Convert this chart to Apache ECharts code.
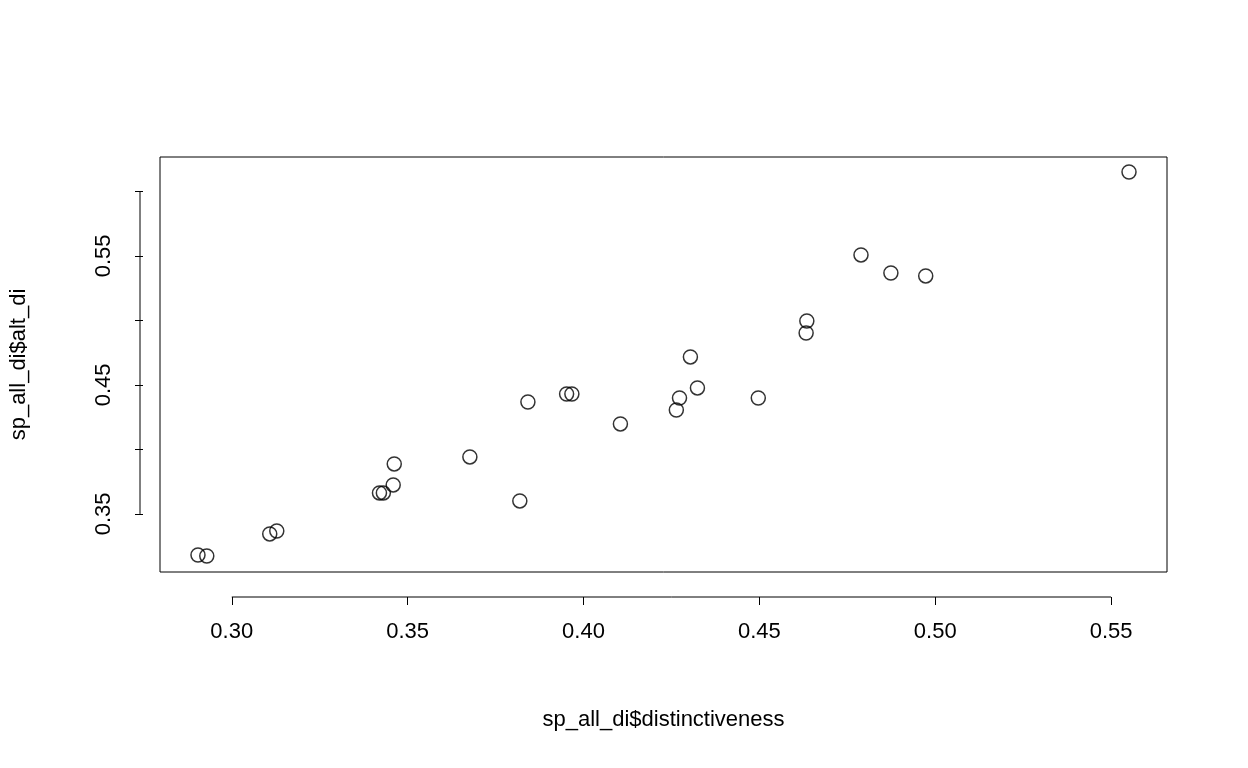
<!DOCTYPE html>
<html>
<head>
<meta charset="utf-8">
<script src="https://cdn.jsdelivr.net/npm/echarts@6/dist/echarts.min.js"></script>
<style>html,body{margin:0;background:#fff}#c{width:1248px;height:768px}</style>
</head>
<body>
<div id="c"></div>
<script>
// distinctiveness vs alt_di
var distinctiveness = [0.5551, 0.4789, 0.4874, 0.4973, 0.4635, 0.4633, 0.4304, 0.4324, 0.4273, 0.4264,
  0.4497, 0.3952, 0.3967, 0.3842, 0.4105, 0.3677, 0.3462, 0.3459, 0.3420, 0.3431,
  0.3819, 0.3128, 0.3108, 0.2904, 0.2929];
var altDi = [0.6151, 0.5508, 0.5368, 0.5345, 0.4996, 0.4903, 0.4717, 0.4477, 0.4399, 0.4306,
  0.4399, 0.4430, 0.4430, 0.4368, 0.4198, 0.3942, 0.3888, 0.3725, 0.3663, 0.3663,
  0.3601, 0.3368, 0.3345, 0.3182, 0.3174];
var xTicks = [0.30, 0.35, 0.40, 0.45, 0.50, 0.55];
var yTicks = [0.35, 0.40, 0.45, 0.50, 0.55, 0.60];
var yLabels = [0.35, 0.45, 0.55];

var font = 'Liberation Sans, Arial, sans-serif';
var chart = echarts.init(document.getElementById('c'));
chart.setOption({
  animation: false,
  grid: {left: 157, right: 81, top: 157, bottom: 196, show: true, borderColor: '#000', borderWidth: 1},
  xAxis: {
    type: 'value', min: 0.2796, max: 0.5659, offset: 25,
    name: 'sp_all_di$distinctiveness', nameLocation: 'middle', nameGap: 112,
    nameTextStyle: {color: '#000', fontSize: 22, fontFamily: font},
    axisLine: {show: false}, splitLine: {show: false},
    axisTick: {show: true, length: 8, customValues: xTicks, lineStyle: {color: '#000'}},
    axisLabel: {customValues: xTicks, color: '#000', fontSize: 22, fontFamily: font, margin: 24,
      formatter: function (v) { return v.toFixed(2); }}
  },
  yAxis: {
    type: 'value', min: 0.305, max: 0.6267, offset: 17,
    name: 'sp_all_di$alt_di', nameLocation: 'middle', nameGap: 113,
    nameTextStyle: {color: '#000', fontSize: 22, fontFamily: font},
    axisLine: {show: false}, splitLine: {show: false},
    axisTick: {show: true, length: 8, customValues: yTicks, lineStyle: {color: '#000'}},
    axisLabel: {customValues: yLabels, rotate: 90, color: '#000', fontSize: 22, fontFamily: font, margin: 28,
      formatter: function (v) { return v.toFixed(2); }}
  },
  series: [{
    type: 'scatter', symbol: 'circle', symbolSize: 14,
    itemStyle: {color: 'rgba(0,0,0,0)', borderColor: '#000', borderWidth: 1.5},
    data: distinctiveness.map(function (x, i) { return [x, altDi[i]]; })
  }]
});

// R-style axis lines spanning only the tick range
var x0 = chart.convertToPixel({xAxisIndex: 0}, xTicks[0]);
var x1 = chart.convertToPixel({xAxisIndex: 0}, xTicks[xTicks.length - 1]);
var y0 = chart.convertToPixel({yAxisIndex: 0}, yTicks[0]);
var y1 = chart.convertToPixel({yAxisIndex: 0}, yTicks[yTicks.length - 1]);
var ax = 768 - 196 + 25, ay = 157 - 17;
chart.setOption({graphic: [
  {type: 'line', shape: {x1: x0, y1: ax, x2: x1, y2: ax}, style: {stroke: '#000', lineWidth: 1}},
  {type: 'line', shape: {x1: ay, y1: y0, x2: ay, y2: y1}, style: {stroke: '#000', lineWidth: 1}}
]});
</script>
</body>
</html>
